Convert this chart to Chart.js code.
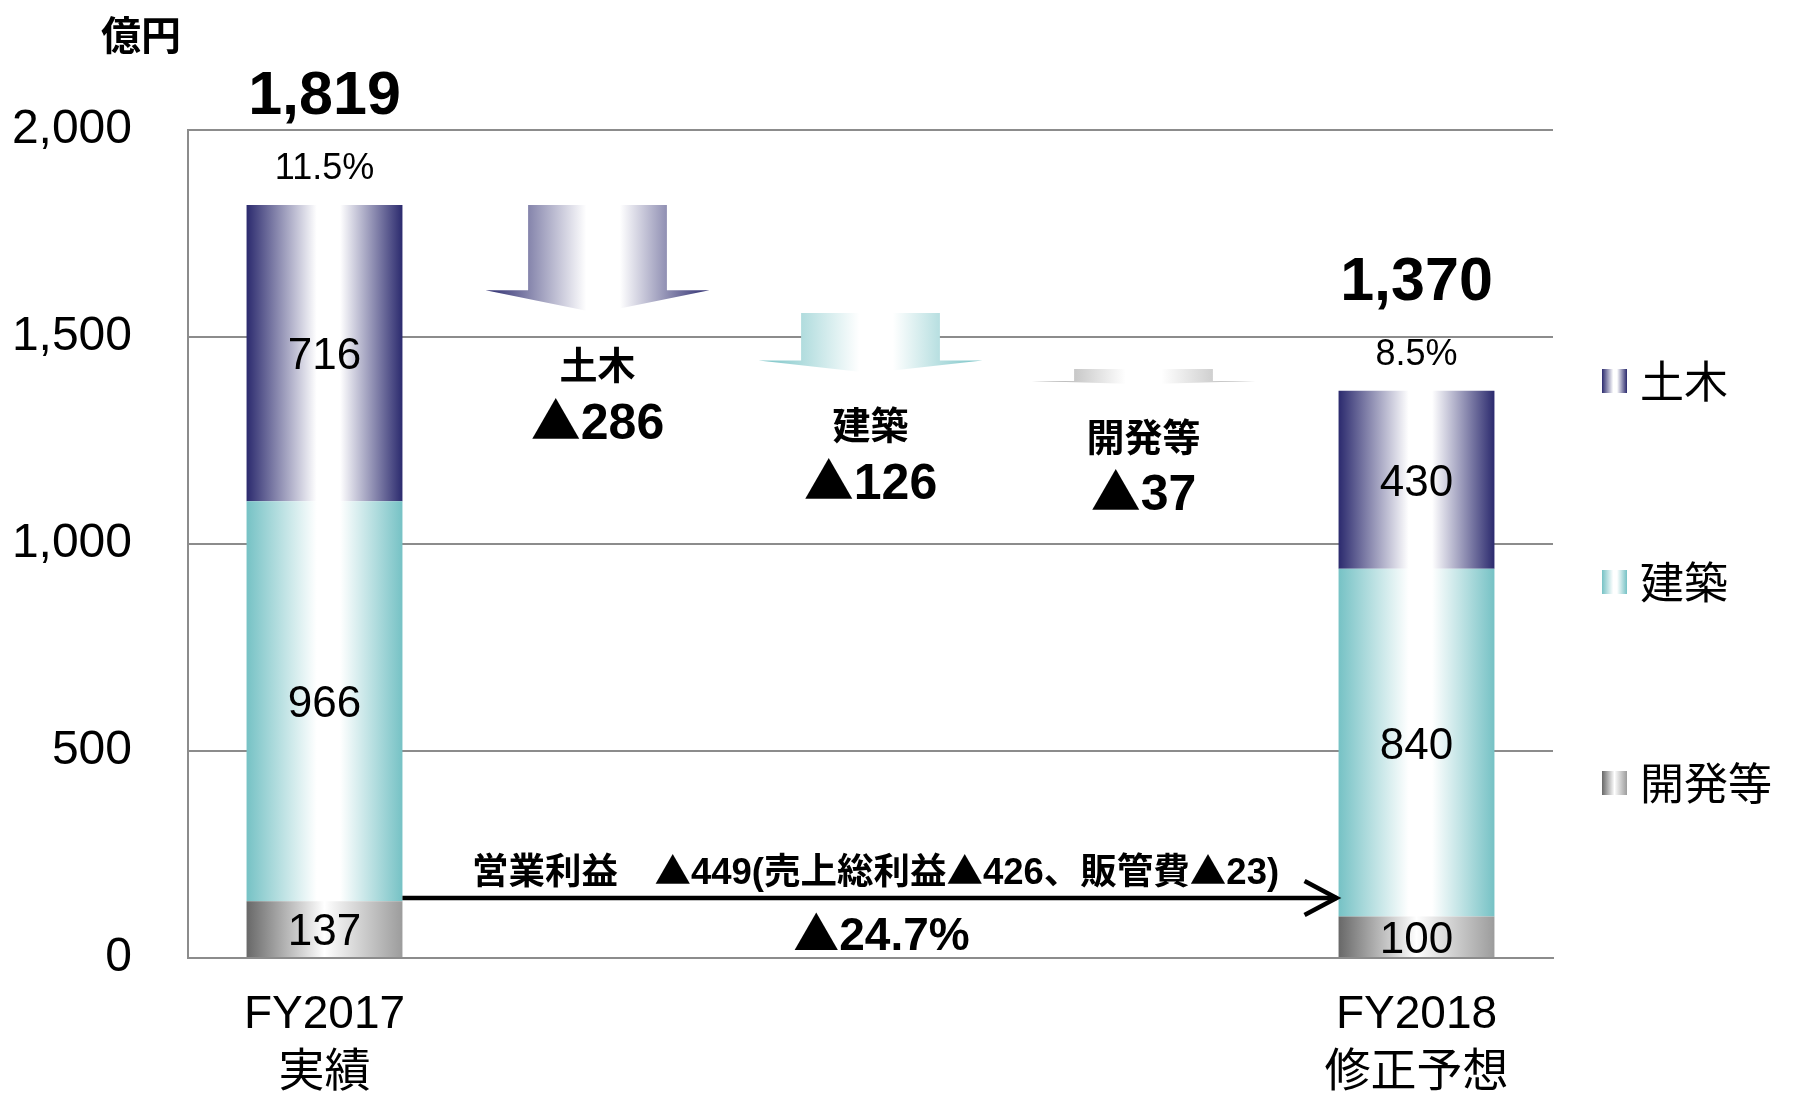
<!DOCTYPE html>
<html>
<head>
<meta charset="utf-8">
<script src="https://cdn.jsdelivr.net/npm/chart.js@4.4.0/dist/chart.umd.min.js"></script>
<style>
  html, body { margin: 0; padding: 0; background: #fff; }
  #wrap { width: 1796px; height: 1102px; }
</style>
</head>
<body>
<div id="wrap"><canvas id="chart" width="1796" height="1102"></canvas></div>
<script>
// categories on the x axis (array = two-line tick label)
const categories = [['FY2017', '実績'], '土木', '建築', '開発等', ['FY2018', '修正予想']];

// stacked segments (bottom -> top)
const kaihatsu = [137, null, null, null, 100];
const kenchiku = [966, null, null, null, 840];
const doboku = [716, null, null, null, 430];
const margins = ['11.5%', null, null, null, '8.5%'];

// waterfall arrows as drawn: [low, high]
const stepArrows = [null, [1558, 1819], [1413, 1558], [1386, 1423], null];
const stepDrops = [null, 286, 126, 37, null];

// operating income note
const opIncomeDrop = 449;
const grossProfitDrop = 426;
const sgaDrop = 23;
const opIncomePct = 24.7;

const LAT = '"Liberation Sans", "Noto Sans CJK JP", sans-serif';
const CJK = '"Noto Sans CJK JP", "Liberation Sans", sans-serif';
const BAR_PCT = 0.571;
const ARROW_PCT = 0.82;

const stops = {
  doboku: [[0, '#2b2a6e'], [0.45, '#ffffff'], [0.6, '#ffffff'], [1, '#2b2a6e']],
  kenchiku: [[0, '#76c2c5'], [0.45, '#ffffff'], [0.6, '#ffffff'], [1, '#76c2c5']],
  kaihatsu: [[0, '#686868'], [0.5, '#ffffff'], [0.56, '#f2f2f2'], [1, '#9c9c9c']],
  kaihatsuArrow: [[0, '#9a9a9a'], [0.42, '#ffffff'], [0.58, '#ffffff'], [1, '#a8a8a8']]
};
const arrowStops = [null, stops.doboku, stops.kenchiku, stops.kaihatsuArrow, null];

function grad(ctx, left, right, st) {
  const g = ctx.createLinearGradient(left, 0, right, 0);
  st.forEach(([o, c]) => g.addColorStop(o, c));
  return g;
}

function barFill(st) {
  return c => {
    const chart = c.chart;
    const xs = chart.scales.x;
    if (!chart.chartArea || !xs) return st[0][1];
    const cx = xs.getPixelForValue(c.dataIndex);
    const w = xs.width / categories.length * BAR_PCT;
    return grad(chart.ctx, cx - w / 2, cx + w / 2, st);
  };
}

// digits in the latin font, ▲ and kanji in the CJK font
function drawMixed(ctx, text, size, cx, cy) {
  const runs = [];
  for (const ch of text) {
    const lat = /[0-9.,%()A-Za-z]/.test(ch);
    const last = runs[runs.length - 1];
    if (last && last.lat === lat) last.t += ch;
    else runs.push({ t: ch, lat });
  }
  let total = 0;
  runs.forEach(r => {
    r.font = `bold ${size}px ${r.lat ? LAT : CJK}`;
    ctx.font = r.font;
    r.w = ctx.measureText(r.t).width;
    total += r.w;
  });
  ctx.save();
  ctx.textAlign = 'left';
  ctx.textBaseline = 'alphabetic';
  let x = cx - total / 2;
  const base = cy + size * 0.358;
  runs.forEach(r => {
    ctx.font = r.font;
    ctx.fillText(r.t, x, base);
    x += r.w;
  });
  ctx.restore();
}

function drawArrow(ctx, el, st) {
  const headW = el.width;
  const shaftW = headW * 0.62;
  const top = Math.min(el.y, el.base);
  const tip = Math.max(el.y, el.base);
  const headH = (tip - top) * 0.21;
  const x = el.x;
  ctx.beginPath();
  ctx.moveTo(x - shaftW / 2, top);
  ctx.lineTo(x + shaftW / 2, top);
  ctx.lineTo(x + shaftW / 2, tip - headH);
  ctx.lineTo(x + headW / 2, tip - headH);
  ctx.lineTo(x, tip);
  ctx.lineTo(x - headW / 2, tip - headH);
  ctx.lineTo(x - shaftW / 2, tip - headH);
  ctx.closePath();
  ctx.fillStyle = grad(ctx, x - headW / 2, x + headW / 2, st);
  ctx.fill();
}

const labelPlugin = {
  id: 'labels',
  afterDatasetsDraw(chart) {
    const ctx = chart.ctx;
    const area = chart.chartArea;
    ctx.save();
    ctx.textAlign = 'center';
    ctx.textBaseline = 'middle';

    // arrows
    chart.getDatasetMeta(3).data.forEach((el, i) => {
      if (!stepArrows[i]) return;
      drawArrow(ctx, el, arrowStops[i]);
      const tip = Math.max(el.y, el.base);
      ctx.fillStyle = '#000';
      ctx.font = `bold 38px ${CJK}`;
      ctx.fillText(categories[i], el.x, tip + 52);
      drawMixed(ctx, '▲' + stepDrops[i], 50, el.x, tip + 108);
    });

    // segment values
    ctx.fillStyle = '#000';
    ctx.font = `44px ${LAT}`;
    [0, 1, 2].forEach(di => {
      chart.getDatasetMeta(di).data.forEach((el, i) => {
        const v = chart.data.datasets[di].data[i];
        if (v == null) return;
        ctx.fillText(String(v), el.x, (el.y + el.base) / 2 + 4);
      });
    });

    // totals and margins
    chart.getDatasetMeta(2).data.forEach((el, i) => {
      if (doboku[i] == null) return;
      const total = kaihatsu[i] + kenchiku[i] + doboku[i];
      ctx.font = `bold 61px ${LAT}`;
      ctx.fillText(total.toLocaleString('en-US'), el.x, el.y - 108);
      ctx.font = `36px ${LAT}`;
      ctx.fillText(margins[i], el.x, el.y - 36);
    });

    // operating income arrow
    const first = chart.getDatasetMeta(0).data[0];
    const last = chart.getDatasetMeta(0).data[4];
    const x0 = first.x + first.width / 2;
    const x1 = last.x - last.width / 2;
    const ly = area.bottom - 60;
    ctx.strokeStyle = '#000';
    ctx.lineWidth = 4.5;
    ctx.beginPath();
    ctx.moveTo(x0, ly);
    ctx.lineTo(x1 - 2, ly);
    ctx.stroke();
    ctx.beginPath();
    ctx.moveTo(x1 - 34, ly - 17);
    ctx.lineTo(x1 - 2, ly);
    ctx.lineTo(x1 - 34, ly + 17);
    ctx.stroke();
    const mid = (x0 + x1) / 2 + 5;
    ctx.fillStyle = '#000';
    drawMixed(ctx, `営業利益　▲${opIncomeDrop}(売上総利益▲${grossProfitDrop}、販管費▲${sgaDrop})`, 36.5, mid, area.bottom - 87);
    drawMixed(ctx, `▲${opIncomePct}%`, 46, mid + 6, area.bottom - 24);
    ctx.restore();
  },
  afterDraw(chart) {
    const ctx = chart.ctx;
    const area = chart.chartArea;
    ctx.save();
    // unit
    ctx.fillStyle = '#000';
    ctx.textAlign = 'center';
    ctx.textBaseline = 'middle';
    ctx.font = `bold 40px ${CJK}`;
    ctx.fillText('億円', 141, 35);
    // legend, top to bottom
    const items = [
      { name: '土木', st: stops.doboku },
      { name: '建築', st: stops.kenchiku },
      { name: '開発等', st: stops.kaihatsu }
    ];
    const mx = area.right + 49;
    items.forEach((it, k) => {
      const cy = 381 + k * 201;
      ctx.fillStyle = grad(ctx, mx, mx + 25, it.st);
      ctx.fillRect(mx, cy - 12, 25, 24);
      ctx.fillStyle = '#000';
      ctx.textAlign = 'left';
      ctx.font = `44px ${CJK}`;
      ctx.fillText(it.name, mx + 38, cy);
    });
    ctx.restore();
  }
};

const common = { stack: 'main', grouped: false, barPercentage: BAR_PCT, categoryPercentage: 1, borderWidth: 0 };

new Chart(document.getElementById('chart'), {
  type: 'bar',
  data: {
    labels: categories,
    datasets: [
      { label: '開発等', data: kaihatsu, backgroundColor: barFill(stops.kaihatsu), ...common },
      { label: '建築', data: kenchiku, backgroundColor: barFill(stops.kenchiku), ...common },
      { label: '土木', data: doboku, backgroundColor: barFill(stops.doboku), ...common },
      { label: 'arrows', data: stepArrows, backgroundColor: 'rgba(0,0,0,0)', stack: 'arrows',
        grouped: false, barPercentage: ARROW_PCT, categoryPercentage: 1, borderWidth: 0 }
    ]
  },
  options: {
    responsive: false,
    animation: false,
    layout: { padding: { top: 130, right: 243, left: 0, bottom: 0 } },
    plugins: { legend: { display: false }, tooltip: { enabled: false } },
    scales: {
      x: {
        stacked: true,
        grid: { display: false, drawTicks: false },
        border: { display: true, color: '#8c8c8c', width: 2 },
        ticks: {
          color: '#000',
          font: { size: 46, family: LAT, lineHeight: 1.26 },
          padding: 28,
          maxRotation: 0,
          minRotation: 0,
          autoSkip: false,
          callback: (v, i) => Array.isArray(categories[i]) ? categories[i] : ''
        },
        afterFit: s => { s.height = 144; }
      },
      y: {
        stacked: true,
        min: 0,
        max: 2000,
        grid: { color: '#8c8c8c', lineWidth: 2, drawTicks: false },
        border: { display: true, color: '#8c8c8c', width: 2 },
        ticks: {
          stepSize: 500,
          color: '#000',
          padding: 56,
          font: { size: 48, family: LAT },
          callback: v => v.toLocaleString('en-US')
        },
        afterFit: s => { s.width = 188; }
      }
    }
  },
  plugins: [labelPlugin]
});
</script>
</body>
</html>
